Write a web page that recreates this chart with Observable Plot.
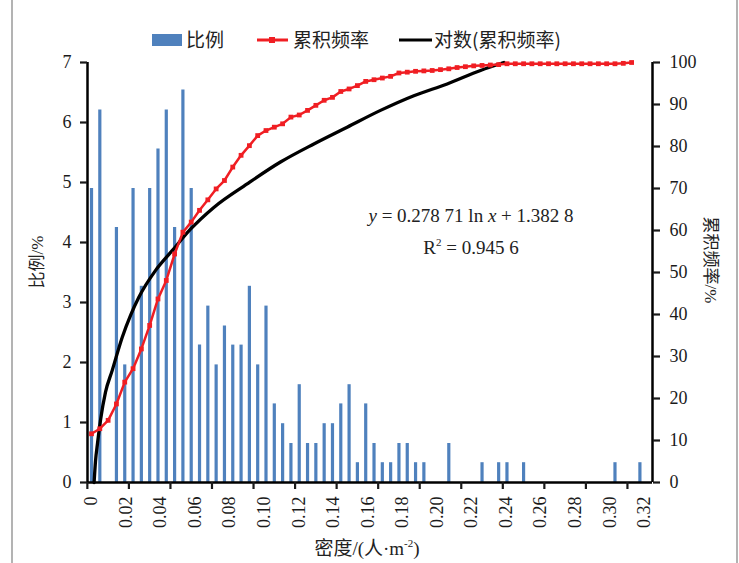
<!DOCTYPE html>
<html><head><meta charset="utf-8">
<script src="https://cdn.jsdelivr.net/npm/d3@7"></script>
<script src="https://cdn.jsdelivr.net/npm/@observablehq/plot@0.6"></script>
<style>
body{margin:0;background:#fff;}
#wrap{position:relative;width:739px;height:563px;overflow:hidden;background:#fff;}
#wrap > svg{position:absolute;left:0;top:0;}
#overlay{pointer-events:none;}
</style>
</head><body>
<div id="wrap"></div>
<script>
// ---- data ----
// share of each density class (%), classes spaced evenly along the x axis
const shareValues = [4.9, 6.21, 0, 4.25, 1.96, 4.9, 3.27, 4.9, 5.56, 6.21, 4.25, 6.54, 4.9, 2.29, 2.94,
  1.96, 2.61, 2.29, 2.29, 3.27, 1.96, 2.94, 1.31, 0.98, 0.65,
  1.63, 0.65, 0.65, 0.98, 0.98, 1.31, 1.63, 0.33, 1.31, 0.65,
  0.33, 0.33, 0.65, 0.65, 0.33, 0.33, 0, 0, 0.65, 0,
  0, 0, 0.33, 0, 0.33, 0.33, 0, 0.33, 0, 0,
  0, 0, 0, 0, 0, 0, 0, 0, 0.33, 0,
  0, 0.33, 0];
// cumulative frequency (%) at each class
const cumValues = [11.6, 12.8, 14.8, 18.7, 23.9, 27.1, 31.8, 37.4, 43.7, 48.1, 54.4, 59.6, 62.0, 64.8, 67.3,
  69.9, 71.9, 75.1, 77.9, 80.2, 82.6, 83.8, 84.6, 85.4, 87.0, 87.5, 88.6, 89.8, 91.0, 91.7,
  93.1, 93.7, 94.5, 95.5, 95.9, 96.3, 96.7, 97.5, 97.7, 97.9, 98.0, 98.1, 98.3, 98.5, 98.8,
  99.0, 99.2, 99.3, 99.4, 99.5, 99.7, 99.7, 99.7, 99.7, 99.7, 99.7, 99.7, 99.7, 99.7, 99.7,
  99.7, 99.7, 99.7, 99.7, 99.8, 100];
// logarithmic trend line (density, %)
const fitDensity = [0.0015, 0.0023, 0.0035, 0.0052, 0.0081, 0.0120, 0.0178, 0.0226, 0.0274, 0.0371, 0.0467,
  0.0573, 0.0708, 0.0901, 0.1094, 0.1287, 0.1480, 0.1673, 0.1866, 0.2059, 0.2252, 0.2387];
const fitPercent = [0, 5.0, 9.4, 14.8, 21.5, 26.7, 34.6, 39.8, 44.1, 50.5, 55.2,
  60.3, 65.5, 71.1, 76.3, 80.6, 84.6, 88.6, 92.1, 94.9, 98.1, 100];
const xTickLabels = [0, 0.02, 0.04, 0.06, 0.08, 0.10, 0.12, 0.14, 0.16, 0.18, 0.20, 0.22, 0.24, 0.26, 0.28, 0.30, 0.32];
const leftTicks = [0, 1, 2, 3, 4, 5, 6, 7];
const rightTicks = [0, 10, 20, 30, 40, 50, 60, 70, 80, 90, 100];
const classStep = 0.00481;       // spacing of the classes along the drawn axis
const tickEveryClasses = 5;      // category tick marks every 5 classes
const xDomain = [-0.00232, 0.32475];

// ---- build ----
const toY = p => p * 7 / 100;
const bars = shareValues.map((v, i) => ({x: i * classStep, v})).filter(d => d.v > 0);
const cum = cumValues.map((p, i) => ({x: i * classStep, y: toY(p)}));
const fit = fitDensity.map((x, i) => ({x, y: toY(fitPercent[i])}));
const tickMarks = d3.range(0, shareValues.length, tickEveryClasses).map(i => (i - 0.5) * classStep);

const blue = "#4f81bd", red = "#f01e23";
const chart = Plot.plot({
  width: 739, height: 563,
  marginTop: 62, marginBottom: 81, marginLeft: 87, marginRight: 87,
  x: {domain: xDomain},
  y: {domain: [0, 7]},
  style: {fontFamily: '"Liberation Serif", "Times New Roman", serif', fontSize: "18px", color: "#1a1a1a", background: "transparent"},
  marks: [
    Plot.ruleX(bars, {x: "x", y1: 0, y2: "v", stroke: blue, strokeWidth: 3.2}),
    Plot.line(fit, {x: "x", y: "y", stroke: "#000", strokeWidth: 3.3, curve: "monotone-x"}),
    Plot.line(cum, {x: "x", y: "y", stroke: red, strokeWidth: 2.5}),
    Plot.dot(cum, {x: "x", y: "y", symbol: "square", r: 2.7, fill: red, stroke: null}),
    Plot.ruleY([0], {stroke: "#000", strokeWidth: 2.5}),
    Plot.ruleX([xDomain[0]], {stroke: "#000", strokeWidth: 2.5}),
    Plot.ruleX([xDomain[1]], {stroke: "#000", strokeWidth: 2.5}),
    Plot.axisY(leftTicks, {anchor: "left", tickSize: 7, tickPadding: 9, strokeWidth: 2.2, label: null,
      tickFormat: v => String(v)}),
    Plot.axisY(rightTicks.map(toY), {anchor: "right", tickSize: 7, tickPadding: 10, strokeWidth: 2.2, label: null,
      tickFormat: v => String(Math.round(v * 100 / 7))}),
    Plot.axisX(tickMarks, {anchor: "bottom", tickSize: 7, strokeWidth: 2.2, tickFormat: () => "", label: null}),
    Plot.axisX(xTickLabels, {anchor: "bottom", tickSize: 0, tickPadding: 14, tickRotate: -90, label: null,
      tickFormat: d => d === 0 ? "0" : d.toFixed(2)})
  ]
});
const wrap = document.getElementById("wrap");
wrap.appendChild(chart);

// ---- texts, legend, border ----
const ns = "http://www.w3.org/2000/svg";
const ov = document.createElementNS(ns, "svg");
ov.setAttribute("id", "overlay");
ov.setAttribute("width", 739); ov.setAttribute("height", 563);
const serif = '"Liberation Serif", "Noto Sans CJK SC", serif';
const cjk = '"Noto Sans CJK SC", sans-serif';
ov.innerHTML = `
<line x1="12" y1="0" x2="12" y2="563" stroke="#9a9a9a" stroke-width="1.5"/>
<line x1="737" y1="0" x2="737" y2="563" stroke="#9a9a9a" stroke-width="1.5"/>
<g font-family='${cjk}' font-size="19" fill="#222">
  <rect x="152" y="34" width="30" height="12" fill="${blue}"/>
  <text x="186" y="47">比例</text>
  <line x1="257" y1="40" x2="288" y2="40" stroke="${red}" stroke-width="3"/>
  <rect x="269" y="37" width="6" height="6" fill="${red}"/>
  <text x="293" y="47">累积频率</text>
  <line x1="399" y1="40" x2="432" y2="40" stroke="#000" stroke-width="3"/>
  <text x="434" y="47">对数(累积频率)</text>
</g>
<g font-family='${serif}' font-size="19" fill="#222">
  <text x="471" y="222" text-anchor="middle"><tspan font-style="italic">y</tspan> = 0.278 71 ln <tspan font-style="italic">x</tspan> + 1.382 8</text>
  <text x="471" y="254" text-anchor="middle">R<tspan dy="-8" font-size="11">2</tspan><tspan dy="8"> = 0.945 6</tspan></text>
  <text transform="translate(43,262) rotate(-90)" text-anchor="middle" font-size="17">比例/%</text>
  <text transform="translate(705,260) rotate(90)" text-anchor="middle" font-size="17">累积频率/%</text>
  <text x="367" y="555" text-anchor="middle">密度/(人·m<tspan dy="-8" font-size="11">-2</tspan><tspan dy="8">)</tspan></text>
</g>`;
wrap.appendChild(ov);
</script>
</body></html>
